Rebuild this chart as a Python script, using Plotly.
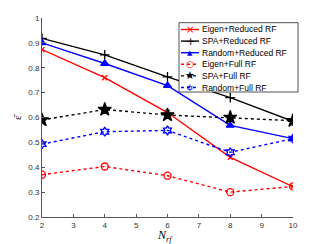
import plotly.graph_objects as go

# ---- data ----
nrf = [2, 4, 6, 8, 10]
eigen_reduced = [0.873, 0.760, 0.620, 0.440, 0.322]
spa_reduced = [0.918, 0.852, 0.763, 0.680, 0.585]
random_reduced = [0.900, 0.817, 0.728, 0.568, 0.515]
eigen_full = [0.370, 0.403, 0.366, 0.300, 0.323]
spa_full = [0.590, 0.632, 0.610, 0.600, 0.587]
random_full = [0.493, 0.543, 0.548, 0.460, 0.515]

series_names = ["Eigen+Reduced RF", "SPA+Reduced RF", "Random+Reduced RF",
                "Eigen+Full RF", "SPA+Full RF", "Random+Full RF"]
series_values = [eigen_reduced, spa_reduced, random_reduced,
                 eigen_full, spa_full, random_full]

x_ticks = [2, 3, 4, 5, 6, 7, 8, 9, 10]
y_ticks = [0.2, 0.3, 0.4, 0.5, 0.6, 0.7, 0.8, 0.9, 1.0]
y_tick_text = ["0.2", "0.3", "0.4", "0.5", "0.6", "0.7", "0.8", "0.9", "1"]

# ---- styles ----
styles = [
    dict(color="#ff0000", dash="solid", symbol="x-thin-open", size=5, glyph="×", gsize=10),
    dict(color="#000000", dash="solid", symbol="cross-thin-open", size=7, glyph="+", gsize=11),
    dict(color="#0000ff", dash="solid", symbol="triangle-up", size=7, glyph="▲", gsize=7),
    dict(color="#ff0000", dash="dot", symbol="circle-open", size=7, glyph="○", gsize=9),
    dict(color="#000000", dash="dot", symbol="star", size=10, glyph="★", gsize=11),
    dict(color="#0000ff", dash="dot", symbol="hexagram-open", size=7, glyph="✡", gsize=9),
]

# page body adds an 8px offset, so the figure is 8px smaller
W, H = 316, 236
ML, MR, MT, MB = 34, 31, 10, 27
PW, PH = W - ML - MR, H - MT - MB


def px(xp):
    return (xp - ML) / PW


def py(yp):
    return (H - MB - yp) / PH


fig = go.Figure()
for name, vals, st in zip(series_names, series_values, styles):
    fig.add_trace(go.Scatter(
        x=nrf, y=vals, name=name, mode="lines+markers",
        line=dict(color=st["color"], width=1.4, dash=st["dash"]),
        marker=dict(symbol=st["symbol"], size=st["size"], color=st["color"],
                    line=dict(color=st["color"], width=1.3)),
    ))

# ---- compact legend (box + samples as shapes, labels as annotations) ----
box_l, box_r, box_t, box_b = 171, 290, 14.7, 84
row0, row_step = 21.5, 11.6
samp_l, samp_r, text_x = 173, 191, 192

fig.add_shape(type="rect", xref="paper", yref="paper",
              x0=px(box_l), x1=px(box_r), y0=py(box_b), y1=py(box_t),
              fillcolor="white", line=dict(color="#262626", width=0.8), layer="above")
for i, (name, st) in enumerate(zip(series_names, styles)):
    yy = row0 + i * row_step
    fig.add_shape(type="line", xref="paper", yref="paper",
                  x0=px(samp_l), x1=px(samp_r), y0=py(yy), y1=py(yy),
                  line=dict(color=st["color"], width=1.4, dash=st["dash"]), layer="above")
    fig.add_annotation(
        x=px((samp_l + samp_r) / 2), y=py(yy), xref="paper", yref="paper",
        text=st["glyph"], showarrow=False, xanchor="center", yanchor="middle",
        font=dict(family="DejaVu Sans", size=st["gsize"], color=st["color"]),
    )
    fig.add_annotation(
        x=px(text_x), y=py(yy), xref="paper", yref="paper", text=name, showarrow=False,
        xanchor="left", yanchor="middle",
        font=dict(family="Liberation Sans", size=8.5, color="#000000"),
    )

# axis titles
fig.add_annotation(x=px(157), y=py(228), xref="paper", yref="paper",
                   text="<i>N</i><sub><i>rf</i></sub>", showarrow=False,
                   xanchor="center", yanchor="middle",
                   font=dict(family="Liberation Serif", size=12, color="#000000"))
fig.add_annotation(x=px(9), y=py(109), xref="paper", yref="paper",
                   text="ε\u0304", showarrow=False, textangle=-90,
                   xanchor="center", yanchor="middle",
                   font=dict(family="Liberation Serif", size=11, color="#000000"))

fig.update_layout(
    width=W, height=H,
    margin=dict(l=ML, r=MR, t=MT, b=MB, autoexpand=False),
    paper_bgcolor="white", plot_bgcolor="white",
    font=dict(family="Liberation Sans", size=8, color="#333333"),
    showlegend=False,
    xaxis=dict(
        automargin=False,
        range=[2, 10], tickvals=x_ticks, showgrid=False, zeroline=False,
        showline=True, linecolor="#555555", linewidth=1,
        ticks="inside", ticklen=3, tickcolor="#555555",
    ),
    yaxis=dict(
        range=[0.2, 1.0], tickvals=y_ticks, ticktext=y_tick_text, automargin=False,
        showgrid=False, zeroline=False,
        showline=True, linecolor="#555555", linewidth=1,
        ticks="inside", ticklen=3, tickcolor="#555555",
    ),
)

fig.write_html("out.html")
